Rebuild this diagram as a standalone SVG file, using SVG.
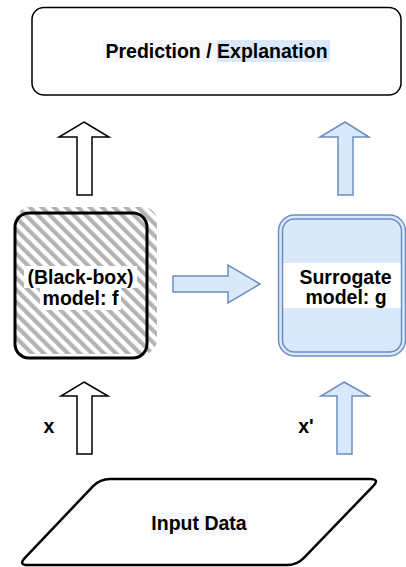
<svg xmlns="http://www.w3.org/2000/svg" width="406" height="567" viewBox="0 0 406 567">
<style>
text{font-family:"Liberation Sans",Arial,sans-serif;font-weight:bold;font-size:19.5px;fill:#000;text-anchor:middle}
.wa{fill:#fff;stroke:#000;stroke-width:1.5;stroke-linejoin:miter}
.ba{fill:#dae8fc;stroke:#6c8ebf;stroke-width:1.5;stroke-linejoin:miter}
</style>
<defs>
<pattern id="hatch" patternUnits="userSpaceOnUse" width="8.5" height="10" patternTransform="rotate(-45)">
<rect x="0" y="0" width="4.2" height="10" fill="#b3b3b3"/>
</pattern>
<clipPath id="hclip"><rect x="16" y="207" width="141" height="147" rx="14"/></clipPath>
</defs>
<g id="prediction">
<rect x="32" y="7.5" width="369" height="87.5" rx="12" fill="#fff" stroke="#000" stroke-width="1.5"/>
<rect x="103" y="40" width="114" height="22" fill="#f6f8fb"/>
<rect x="217" y="40" width="113" height="22" fill="#dae8fc"/>
<text x="216.5" y="57.5">Prediction / Explanation</text>
</g>
<g id="blackbox">
<rect x="16" y="207" width="141" height="147" fill="url(#hatch)" clip-path="url(#hclip)"/>
<rect x="15" y="213" width="132" height="145" rx="14" fill="none" stroke="#000" stroke-width="3"/>
<rect x="24" y="266" width="113" height="22" fill="#fff"/>
<rect x="40" y="288" width="81" height="22" fill="#fff"/>
<text x="80.5" y="283.5">(Black-box)</text>
<text x="80.5" y="305">model: f</text>
</g>
<g id="surrogate">
<rect x="278.5" y="215" width="127" height="141" rx="16" fill="#dae8fc" stroke="#6c8ebf" stroke-width="1.5"/>
<rect x="282.5" y="263" width="119" height="45" fill="#fff"/>
<rect x="282.5" y="219" width="119" height="133" rx="12" fill="none" stroke="#6c8ebf" stroke-width="1.5"/>
<text x="345.5" y="283.5">Surrogate</text>
<text x="346" y="304">model: g</text>
</g>
<g id="input">
<path d="M110,479 L370,479 Q380,479 373.1,486.2 L303.9,557.8 Q297,565 287,565 L28,565 Q18,565 24.9,557.8 L93.1,486.2 Q100,479 110,479 Z" fill="#fff" stroke="#000" stroke-width="2.5" stroke-linejoin="round"/>
<rect x="151" y="513" width="97" height="22" fill="#f6f8fb"/>
<text x="199" y="530">Input Data</text>
</g>
<g id="labels">
<text x="49" y="433">x</text>
<text x="306" y="433">x'</text>
</g>
<g id="connectors">
<polygon class="wa" points="84,122 109,137 92,137 92,195 77,195 77,137 59,137"/>
<polygon class="ba" points="345,122 369,137 353,137 353,195 338,195 338,137 320,137"/>
<polygon class="wa" points="84,382 108,396 92,396 92,454 77,454 77,396 61,396"/>
<polygon class="ba" points="344,382 369,396 352,396 352,454 337,454 337,396 321,396"/>
<polygon class="ba" points="173,276 228,276 228,265 260,284 228,303 228,292 173,292"/>
</g>
</svg>
